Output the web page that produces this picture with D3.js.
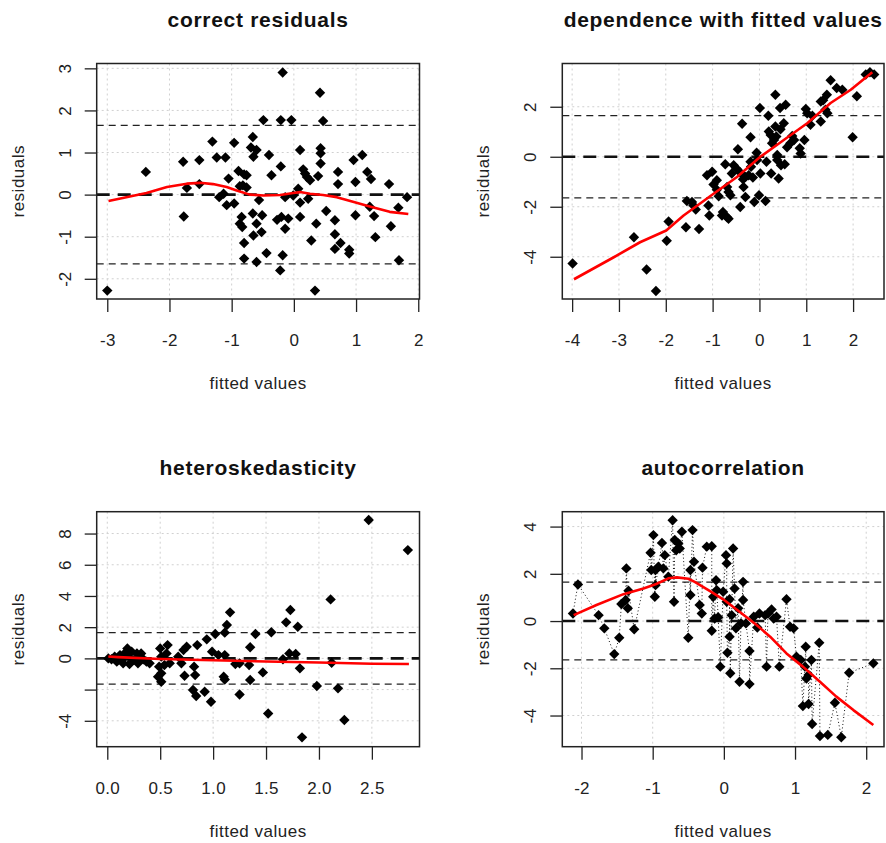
<!DOCTYPE html>
<head>
  <meta charset="UTF-8">
  <script src="https://d3js.org/d3.v7.min.js"></script>
  <style>
    body { margin: 0; background: #fff; }
    text { font-family: "Liberation Sans", Arial, sans-serif; fill: #111; }
  </style>
</head>
<body>
  <div id="my_dataviz"></div>
  <script>

    // ---- data: [fitted, residual] ----
    var correctPts = [[-3.0,-2.28],[-2.38,0.54],[-1.78,0.78],[-1.77,-0.52],[-1.72,0.16],[-1.52,0.82],[-1.52,0.25],[-1.31,1.26],[-1.24,0.88],[-1.10,0.88],[-1.20,-0.06],[-1.13,0.02],[-1.08,-0.25],[-1.05,0.38],[-0.96,-0.21],[-0.96,1.23],[-0.89,0.56],[-0.87,0.2],[-0.82,0.22],[-0.80,0.48],[-0.76,0.46],[-0.76,0.17],[-0.84,-0.53],[-0.87,-0.69],[-0.83,-0.77],[-0.80,-1.15],[-0.80,-1.52],[-0.66,1.37],[-0.69,1.12],[-0.65,0.90],[-0.60,1.06],[-0.66,-0.45],[-0.60,-0.69],[-0.56,-0.13],[-0.51,-0.49],[-0.52,-0.89],[-0.65,-0.97],[-0.60,-1.60],[-0.49,1.77],[-0.44,-1.39],[-0.40,0.94],[-0.36,0.46],[-0.21,1.77],[-0.18,2.90],[-0.21,0.67],[-0.27,-0.60],[-0.20,-0.53],[-0.14,-0.81],[-0.18,-1.44],[-0.22,-1.80],[-0.14,-0.06],[-0.09,-0.57],[-0.04,1.77],[-0.01,-0.02],[0.10,1.06],[0.07,0.14],[0.10,-0.19],[0.10,-0.53],[0.15,0.60],[0.18,0.50],[0.21,0.42],[0.26,0.34],[0.23,-0.10],[0.28,-1.09],[0.34,-2.28],[0.36,-0.69],[0.39,0.44],[0.42,2.42],[0.43,1.10],[0.43,0.98],[0.43,0.74],[0.47,1.75],[0.52,-0.39],[0.66,-0.61],[0.66,-0.94],[0.66,-1.29],[0.71,0.54],[0.71,0.25],[0.75,-1.15],[0.89,-1.31],[0.89,-1.40],[0.96,0.82],[0.99,0.30],[0.99,-0.49],[1.10,0.94],[1.18,0.54],[1.24,0.37],[1.22,-0.29],[1.29,-0.51],[1.31,-1.01],[1.53,0.25],[1.56,-0.75],[1.68,-0.31],[1.69,-1.56],[1.82,-0.06]];
    var correctSmooth = [[-2.98,-0.15],[-2.37,0.04],[-2.04,0.18],[-1.72,0.26],[-1.51,0.28],[-1.30,0.25],[-1.08,0.18],[-0.92,0.10],[-0.71,0.0],[-0.49,-0.02],[-0.22,-0.01],[-0.01,0.04],[0.10,0.06],[0.26,0.02],[0.47,-0.01],[0.69,-0.06],[0.95,-0.17],[1.22,-0.28],[1.54,-0.41],[1.84,-0.46]];

    var dependPts = [[-3.99,-4.27],[-2.68,-3.22],[-2.41,-4.51],[-2.21,-5.37],[-1.98,-3.36],[-1.94,-2.59],[-1.57,-2.82],[-1.55,-1.77],[-1.44,-1.81],[-1.41,-1.95],[-1.36,-2.11],[-1.29,-2.89],[-1.12,-0.74],[-1.01,-0.60],[-1.09,-1.95],[-1.07,-2.35],[-0.98,-1.11],[-0.91,-0.94],[-0.91,-1.32],[-0.87,-1.58],[-0.80,-2.35],[-0.78,-2.21],[-0.69,-2.42],[-0.66,-2.48],[-0.73,-0.30],[-0.69,-1.21],[-0.66,-1.41],[-0.62,-1.54],[-0.59,-0.67],[-0.55,-0.34],[-0.49,-0.47],[-0.46,0.30],[-0.41,-0.63],[-0.41,-2.01],[-0.37,1.32],[-0.35,-0.90],[-0.34,-1.21],[-0.30,-1.61],[-0.30,-0.81],[-0.23,-0.74],[-0.19,0.78],[-0.19,-0.20],[-0.18,-0.40],[-0.14,-0.83],[-0.11,-1.81],[-0.06,0.16],[-0.05,-0.13],[-0.01,-1.54],[0.01,1.95],[0.02,-0.67],[0.13,-1.77],[0.15,-0.20],[0.19,1.64],[0.20,1.01],[0.24,0.87],[0.25,-0.67],[0.27,0.54],[0.31,0.67],[0.34,2.48],[0.34,1.21],[0.36,0.81],[0.38,0.07],[0.38,-0.13],[0.41,-0.87],[0.44,1.95],[0.45,1.10],[0.46,-0.34],[0.52,1.34],[0.54,-0.30],[0.56,2.08],[0.59,0.38],[0.66,0.54],[0.70,0.83],[0.74,0.67],[0.86,0.34],[0.88,0.13],[0.96,0.67],[0.99,1.91],[1.02,1.74],[1.09,1.28],[1.13,1.64],[1.31,2.21],[1.31,1.41],[1.36,2.26],[1.41,1.88],[1.44,2.48],[1.45,1.74],[1.52,3.06],[1.65,2.75],[1.77,2.68],[1.99,0.78],[2.08,2.42],[2.27,3.29],[2.36,3.38],[2.45,3.29]];
    var dependSmooth = [[-3.96,-4.9],[-3.12,-4.03],[-2.55,-3.42],[-1.99,-2.95],[-1.62,-2.35],[-0.98,-1.48],[-0.48,-0.81],[0.02,0.0],[0.52,0.67],[1.02,1.34],[1.52,2.15],[1.95,2.68],[2.41,3.38]];

    var heteroPts = [[2.47,8.87],[2.84,6.94],[2.11,3.78],[1.16,2.95],[1.73,3.10],[1.69,2.31],[1.80,2.03],[1.13,2.14],[1.11,1.65],[1.02,1.56],[0.94,1.22],[1.55,1.67],[1.40,1.56],[1.35,0.71],[0.85,0.85],[0.75,0.75],[0.72,0.53],[0.57,0.85],[0.50,0.64],[0.51,0.11],[0.56,0.32],[0.59,-0.32],[0.54,-0.43],[0.49,-0.53],[0.51,-0.96],[0.48,-1.18],[0.51,-1.50],[0.67,0.11],[0.70,-0.32],[0.73,-1.11],[0.82,-0.53],[0.83,-1.07],[0.81,-2.03],[0.84,-2.41],[0.92,-2.14],[0.98,-2.78],[0.99,0.43],[1.05,0.21],[1.11,0.21],[1.10,-1.18],[1.11,-1.35],[1.21,-0.36],[1.25,-0.32],[1.25,-2.31],[1.34,-0.43],[1.35,-1.39],[1.47,-0.90],[1.52,-3.53],[1.66,-0.06],[1.72,0.32],[1.78,0.28],[1.82,-0.64],[1.84,-5.06],[1.98,-1.77],[2.12,-0.28],[2.18,-1.92],[2.24,-3.95],[0.01,0.0],[0.04,-0.06],[0.07,0.11],[0.09,-0.21],[0.12,0.21],[0.14,-0.11],[0.17,0.36],[0.19,0.64],[0.20,0.11],[0.21,-0.36],[0.23,0.43],[0.25,-0.11],[0.28,0.32],[0.29,-0.32],[0.31,0.11],[0.32,0.32],[0.34,-0.06],[0.15,-0.32],[0.37,-0.21],[0.40,-0.32]];
    var heteroSmooth = [[0.01,0.12],[0.10,0.08],[0.5,-0.04],[1.0,-0.12],[1.5,-0.2],[2.0,-0.26],[2.5,-0.34],[2.85,-0.36]];

    var autoPts = [[-2.12,0.32],[-2.05,1.55],[-1.76,0.25],[-1.68,-0.31],[-1.54,-1.40],[-1.47,-0.71],[-1.44,0.72],[-1.37,2.23],[-1.38,0.89],[-1.35,0.54],[-1.34,1.28],[-1.26,-0.35],[-1.03,2.89],[-0.99,3.64],[-1.02,2.16],[-0.96,2.16],[-0.97,1.03],[-0.96,1.52],[-0.92,2.30],[-0.87,3.31],[-0.85,2.23],[-0.83,2.79],[-0.78,1.88],[-0.72,4.27],[-0.70,0.82],[-0.69,3.43],[-0.67,3.00],[-0.64,3.29],[-0.62,3.07],[-0.59,3.78],[-0.50,-0.71],[-0.47,2.16],[-0.47,1.10],[-0.44,3.85],[-0.42,2.51],[-0.34,0.68],[-0.31,0.32],[-0.30,2.26],[-0.24,3.15],[-0.17,3.17],[-0.17,-0.41],[-0.15,1.03],[-0.11,1.73],[-0.10,1.31],[-0.13,0.11],[-0.08,0.16],[-0.05,-1.93],[-0.01,1.24],[0.03,2.79],[0.04,2.44],[0.04,0.82],[0.05,-1.34],[0.08,-0.66],[0.08,0.92],[0.09,-2.21],[0.11,0.25],[0.13,3.07],[0.15,1.38],[0.17,-0.31],[0.20,0.54],[0.22,-2.57],[0.24,-0.10],[0.27,1.66],[0.27,0.89],[0.31,-0.10],[0.36,-1.27],[0.36,-2.67],[0.42,0.18],[0.47,-0.27],[0.50,0.32],[0.58,0.25],[0.60,-1.93],[0.62,0.32],[0.67,0.49],[0.70,0.11],[0.74,0.18],[0.78,-1.93],[0.88,0.92],[0.93,-0.24],[0.98,-0.31],[1.02,-1.51],[1.08,-1.65],[1.14,-1.93],[1.15,-1.09],[1.16,-2.43],[1.19,-2.28],[1.23,-1.65],[1.11,-3.60],[1.19,-3.51],[1.24,-4.36],[1.34,-0.92],[1.35,-4.87],[1.46,-4.82],[1.56,-3.46],[1.65,-4.92],[1.76,-2.19],[2.10,-1.79]];
    var autoSmooth = [[-2.11,0.25],[-1.79,0.68],[-1.41,1.14],[-1.13,1.38],[-0.95,1.57],[-0.78,1.81],[-0.66,1.85],[-0.50,1.79],[-0.41,1.66],[-0.20,1.28],[-0.01,0.92],[0.22,0.39],[0.46,-0.17],[0.65,-0.66],[0.88,-1.37],[1.11,-1.93],[1.35,-2.57],[1.58,-3.20],[1.82,-3.77],[2.10,-4.40]];

    // reference lines: 0 and +/- qnorm(0.95)
    var refLines = [-1.645, 1.645];

    // ticks and labels
    var correctXTicks = [-3, -2, -1, 0, 1, 2], correctYTicks = [-2, -1, 0, 1, 2, 3];
    var dependXTicks = [-4, -3, -2, -1, 0, 1, 2], dependYTicks = [-4, -2, 0, 2];
    var heteroXTicks = [0, 0.5, 1, 1.5, 2, 2.5], heteroYTicks = [-4, -2, 0, 2, 4, 6, 8];
    var heteroYLabels = ["-4", "", "0", "2", "4", "6", "8"];
    var autoXTicks = [-2, -1, 0, 1, 2], autoYTicks = [-4, -2, 0, 2, 4];

    var titles = ["correct residuals", "dependence with fitted values", "heteroskedasticity", "autocorrelation"];

    // ---- layout ----
    var panels = [
      { title: titles[0], box: [96.7, 63.5, 419.5, 299], xDom: [-3.17, 2.02], yDom: [-2.48, 3.115],
        pts: correctPts, smooth: correctSmooth, xTicks: correctXTicks, yTicks: correctYTicks, fmt: d3.format("d") },
      { title: titles[1], box: [562.3, 63.5, 884, 299], xDom: [-4.21, 2.66], yDom: [-5.69, 3.73],
        pts: dependPts, smooth: dependSmooth, xTicks: dependXTicks, yTicks: dependYTicks, fmt: d3.format("d") },
      { title: titles[2], box: [96.7, 511.7, 419.5, 746.7], xDom: [-0.10, 2.95], yDom: [-5.66, 9.40],
        pts: heteroPts, smooth: heteroSmooth, xTicks: heteroXTicks, yTicks: heteroYTicks, yLabels: heteroYLabels, fmt: d3.format(".1f") },
      { title: titles[3], box: [562.3, 511.7, 884, 746.7], xDom: [-2.27, 2.25], yDom: [-5.32, 4.63],
        pts: autoPts, smooth: autoSmooth, xTicks: autoXTicks, yTicks: autoYTicks, fmt: d3.format("d"), connect: true }
    ];

    var svg = d3.select("#my_dataviz").append("svg")
      .attr("width", 886)
      .attr("height", 843);

    // pch 18 style filled diamond
    var diamond = "M0,-5.2L5.2,0L0,5.2L-5.2,0Z";
    var minus = function (s) { return String(s).replace("\u2212", "-"); };

    panels.forEach(function (p, i) {
      var x0 = p.box[0], y0 = p.box[1], x1 = p.box[2], y1 = p.box[3];
      var x = d3.scaleLinear().domain(p.xDom).range([x0, x1]);
      var y = d3.scaleLinear().domain(p.yDom).range([y1, y0]);
      var g = svg.append("g").attr("class", "panel-" + i);

      // grid
      g.append("g").selectAll("line").data(p.xTicks).enter().append("line")
        .attr("x1", function (d) { return x(d); }).attr("x2", function (d) { return x(d); })
        .attr("y1", y0).attr("y2", y1)
        .style("stroke", "#d0d0d0").style("stroke-width", 1).style("stroke-dasharray", "2,3");
      g.append("g").selectAll("line").data(p.yTicks).enter().append("line")
        .attr("y1", function (d) { return y(d); }).attr("y2", function (d) { return y(d); })
        .attr("x1", x0).attr("x2", x1)
        .style("stroke", "#d0d0d0").style("stroke-width", 1).style("stroke-dasharray", "2,3");

      // dashed reference lines
      g.append("g").selectAll("line").data(refLines).enter().append("line")
        .attr("y1", function (d) { return y(d); }).attr("y2", function (d) { return y(d); })
        .attr("x1", x0).attr("x2", x1)
        .style("stroke", "#222").style("stroke-width", 1.3).style("stroke-dasharray", "7,5");
      g.append("line")
        .attr("x1", x0).attr("x2", x1).attr("y1", y(0)).attr("y2", y(0))
        .style("stroke", "#111").style("stroke-width", 2.6).style("stroke-dasharray", "13,8");

      // dotted path through the points (time order)
      if (p.connect) {
        var ordered = d3.sort(p.pts, function (d) { return d[0]; });
        g.append("path")
          .datum(ordered)
          .attr("d", d3.line().x(function (d) { return x(d[0]); }).y(function (d) { return y(d[1]); }))
          .style("fill", "none").style("stroke", "#111").style("stroke-width", 1).style("stroke-dasharray", "1,2.5");
      }

      // points
      g.append("g").selectAll("path").data(p.pts).enter().append("path")
        .attr("d", diamond)
        .attr("transform", function (d) { return "translate(" + x(d[0]) + "," + y(d[1]) + ")"; })
        .style("fill", "#000");

      // lowess line
      g.append("path")
        .datum(p.smooth)
        .attr("d", d3.line().x(function (d) { return x(d[0]); }).y(function (d) { return y(d[1]); }))
        .style("fill", "none").style("stroke", "#ff0000").style("stroke-width", 2.6)
        .style("stroke-linejoin", "round");

      // box
      g.append("rect")
        .attr("x", x0).attr("y", y0).attr("width", x1 - x0).attr("height", y1 - y0)
        .style("fill", "none").style("stroke", "#222").style("stroke-width", 1.5);

      // x axis
      var xAxis = g.append("g")
        .attr("transform", "translate(0," + y1 + ")")
        .call(d3.axisBottom(x).tickValues(p.xTicks).tickSize(13).tickPadding(22).tickFormat(function (d) { return minus(p.fmt(d)); }));
      xAxis.select(".domain").remove();
      xAxis.selectAll("line").style("stroke", "#222").style("stroke-width", 1.3);
      xAxis.selectAll("text").style("font-size", "17px").style("letter-spacing", "0.3px").style("fill", "#222").attr("font-family", null);

      // y axis, labels turned like R's las = 0
      var yAxis = g.append("g")
        .attr("transform", "translate(" + x0 + ",0)")
        .call(d3.axisLeft(y).tickValues(p.yTicks).tickSize(12).tickFormat(function (d, k) {
          return p.yLabels ? p.yLabels[k] : minus(p.fmt(d));
        }));
      yAxis.select(".domain").remove();
      yAxis.selectAll("line").style("stroke", "#222").style("stroke-width", 1.3);
      yAxis.selectAll("text")
        .attr("x", null).attr("dy", null)
        .attr("text-anchor", "middle")
        .attr("transform", "translate(-32,0) rotate(-90)")
        .attr("y", 6)
        .style("font-size", "17px").style("fill", "#222");

      // titles and axis labels
      g.append("text")
        .attr("x", (x0 + x1) / 2).attr("y", y0 - 37)
        .attr("text-anchor", "middle")
        .style("font-size", "21px").style("font-weight", "bold").style("letter-spacing", "0.7px")
        .text(p.title);
      g.append("text")
        .attr("x", (x0 + x1) / 2).attr("y", y1 + 90)
        .attr("text-anchor", "middle")
        .style("font-size", "17px").style("letter-spacing", "0.5px").style("fill", "#222")
        .text("fitted values");
      g.append("text")
        .attr("transform", "translate(" + (x0 - 73) + "," + ((y0 + y1) / 2) + ") rotate(-90)")
        .attr("text-anchor", "middle")
        .style("font-size", "17px").style("letter-spacing", "0.5px").style("fill", "#222")
        .text("residuals");
    });

  </script>
</body>
